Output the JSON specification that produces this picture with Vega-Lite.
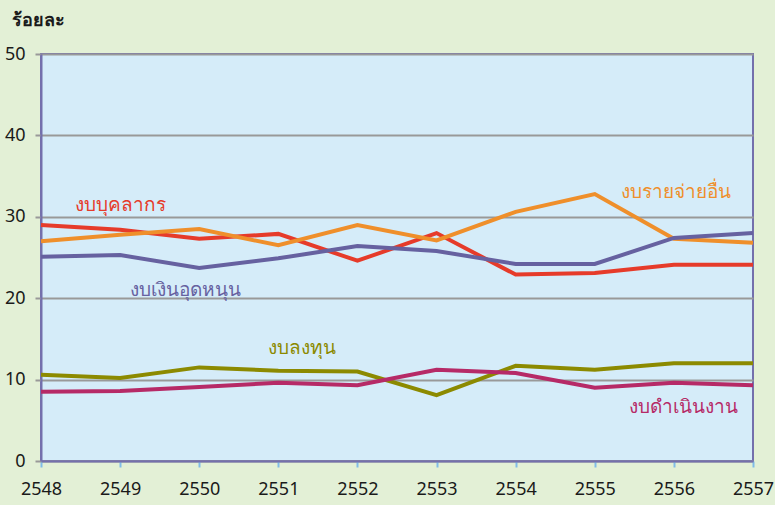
{
  "$schema": "https://vega.github.io/schema/vega-lite/v6.json",
  "width": 712,
  "height": 407,
  "autosize": "none",
  "padding": {"left": 41, "top": 54, "right": 22, "bottom": 44},
  "background": "#e3f0d6",
  "config": {
    "font": "Noto Sans",
    "view": {"fill": "#d5ecf9", "stroke": "#7470ac", "strokeWidth": 2}
  },
  "datasets": {
    "series": [
      {"year": 2548, "value": 29.0, "type": "งบบุคลากร"},
      {"year": 2549, "value": 28.4, "type": "งบบุคลากร"},
      {"year": 2550, "value": 27.3, "type": "งบบุคลากร"},
      {"year": 2551, "value": 27.9, "type": "งบบุคลากร"},
      {"year": 2552, "value": 24.6, "type": "งบบุคลากร"},
      {"year": 2553, "value": 28.0, "type": "งบบุคลากร"},
      {"year": 2554, "value": 22.9, "type": "งบบุคลากร"},
      {"year": 2555, "value": 23.1, "type": "งบบุคลากร"},
      {"year": 2556, "value": 24.1, "type": "งบบุคลากร"},
      {"year": 2557, "value": 24.1, "type": "งบบุคลากร"},
      {"year": 2548, "value": 27.0, "type": "งบรายจ่ายอื่น"},
      {"year": 2549, "value": 27.8, "type": "งบรายจ่ายอื่น"},
      {"year": 2550, "value": 28.5, "type": "งบรายจ่ายอื่น"},
      {"year": 2551, "value": 26.5, "type": "งบรายจ่ายอื่น"},
      {"year": 2552, "value": 29.0, "type": "งบรายจ่ายอื่น"},
      {"year": 2553, "value": 27.1, "type": "งบรายจ่ายอื่น"},
      {"year": 2554, "value": 30.6, "type": "งบรายจ่ายอื่น"},
      {"year": 2555, "value": 32.8, "type": "งบรายจ่ายอื่น"},
      {"year": 2556, "value": 27.3, "type": "งบรายจ่ายอื่น"},
      {"year": 2557, "value": 26.8, "type": "งบรายจ่ายอื่น"},
      {"year": 2548, "value": 25.1, "type": "งบเงินอุดหนุน"},
      {"year": 2549, "value": 25.3, "type": "งบเงินอุดหนุน"},
      {"year": 2550, "value": 23.7, "type": "งบเงินอุดหนุน"},
      {"year": 2551, "value": 24.9, "type": "งบเงินอุดหนุน"},
      {"year": 2552, "value": 26.4, "type": "งบเงินอุดหนุน"},
      {"year": 2553, "value": 25.8, "type": "งบเงินอุดหนุน"},
      {"year": 2554, "value": 24.2, "type": "งบเงินอุดหนุน"},
      {"year": 2555, "value": 24.2, "type": "งบเงินอุดหนุน"},
      {"year": 2556, "value": 27.4, "type": "งบเงินอุดหนุน"},
      {"year": 2557, "value": 28.0, "type": "งบเงินอุดหนุน"},
      {"year": 2548, "value": 10.6, "type": "งบลงทุน"},
      {"year": 2549, "value": 10.2, "type": "งบลงทุน"},
      {"year": 2550, "value": 11.5, "type": "งบลงทุน"},
      {"year": 2551, "value": 11.1, "type": "งบลงทุน"},
      {"year": 2552, "value": 11.0, "type": "งบลงทุน"},
      {"year": 2553, "value": 8.1, "type": "งบลงทุน"},
      {"year": 2554, "value": 11.7, "type": "งบลงทุน"},
      {"year": 2555, "value": 11.2, "type": "งบลงทุน"},
      {"year": 2556, "value": 12.0, "type": "งบลงทุน"},
      {"year": 2557, "value": 12.0, "type": "งบลงทุน"},
      {"year": 2548, "value": 8.5, "type": "งบดำเนินงาน"},
      {"year": 2549, "value": 8.6, "type": "งบดำเนินงาน"},
      {"year": 2550, "value": 9.1, "type": "งบดำเนินงาน"},
      {"year": 2551, "value": 9.6, "type": "งบดำเนินงาน"},
      {"year": 2552, "value": 9.3, "type": "งบดำเนินงาน"},
      {"year": 2553, "value": 11.2, "type": "งบดำเนินงาน"},
      {"year": 2554, "value": 10.8, "type": "งบดำเนินงาน"},
      {"year": 2555, "value": 9.0, "type": "งบดำเนินงาน"},
      {"year": 2556, "value": 9.6, "type": "งบดำเนินงาน"},
      {"year": 2557, "value": 9.3, "type": "งบดำเนินงาน"}
    ],
    "labels": [
      {"year": 2549.0, "value": 31.4, "type": "งบบุคลากร", "label": "งบบุคลากร"},
      {"year": 2549.83, "value": 21.0, "type": "งบเงินอุดหนุน", "label": "งบเงินอุดหนุน"},
      {"year": 2556.03, "value": 33.0, "type": "งบรายจ่ายอื่น", "label": "งบรายจ่ายอื่น"},
      {"year": 2551.3, "value": 13.9, "type": "งบลงทุน", "label": "งบลงทุน"},
      {"year": 2556.12, "value": 6.6, "type": "งบดำเนินงาน", "label": "งบดำเนินงาน"}
    ]
  },
  "layer": [
    {
      "data": {"name": "series"},
      "mark": {"type": "line", "strokeWidth": 4},
      "encoding": {
        "x": {
          "field": "year", "type": "quantitative",
          "scale": {"domain": [2548, 2557], "nice": false, "zero": false},
          "axis": {
            "title": null, "format": "d", "values": [2548, 2549, 2550, 2551, 2552, 2553, 2554, 2555, 2556, 2557],
            "grid": false, "domain": true, "domainColor": "#7470ac", "domainWidth": 2,
            "tickColor": "#7fbce8", "tickSize": 6, "tickWidth": 2,
            "labelFontSize": 18, "labelColor": "#1a1a1a", "labelPadding": 13, "labelFlush": false
          }
        },
        "y": {
          "field": "value", "type": "quantitative",
          "scale": {"domain": [0, 50], "nice": false},
          "axis": {
            "values": [0, 10, 20, 30, 40, 50],
            "title": "ร้อยละ", "titleAngle": 0, "titleAlign": "left", "titleBaseline": "middle",
            "titleX": -30, "titleY": -34, "titleFontSize": 18, "titleFontWeight": "bold", "titleColor": "#1a1a1a",
            "grid": true, "gridColor": "#999999", "gridWidth": 2,
            "domain": true, "domainColor": "#7470ac", "domainWidth": 2,
            "tickColor": "#999999", "tickSize": 6, "tickWidth": 2,
            "labelFontSize": 18, "labelColor": "#1a1a1a", "labelPadding": 10
          }
        },
        "color": {
          "field": "type", "type": "nominal",
          "scale": {
            "domain": ["งบบุคลากร", "งบรายจ่ายอื่น", "งบเงินอุดหนุน", "งบลงทุน", "งบดำเนินงาน"],
            "range": ["#e63b2a", "#ef8f2b", "#6661a0", "#8c8a00", "#b62a67"]
          },
          "legend": null
        }
      }
    },
    {
      "data": {"name": "labels"},
      "mark": {"type": "text", "fontSize": 19, "align": "center", "baseline": "middle"},
      "encoding": {
        "x": {"field": "year", "type": "quantitative"},
        "y": {"field": "value", "type": "quantitative"},
        "text": {"field": "label"},
        "color": {
          "field": "type", "type": "nominal",
          "scale": {
            "domain": ["งบบุคลากร", "งบรายจ่ายอื่น", "งบเงินอุดหนุน", "งบลงทุน", "งบดำเนินงาน"],
            "range": ["#e63b2a", "#ef8f2b", "#8a84c2", "#8c8a00", "#b62a67"]
          },
          "legend": null
        }
      }
    }
  ]
}
